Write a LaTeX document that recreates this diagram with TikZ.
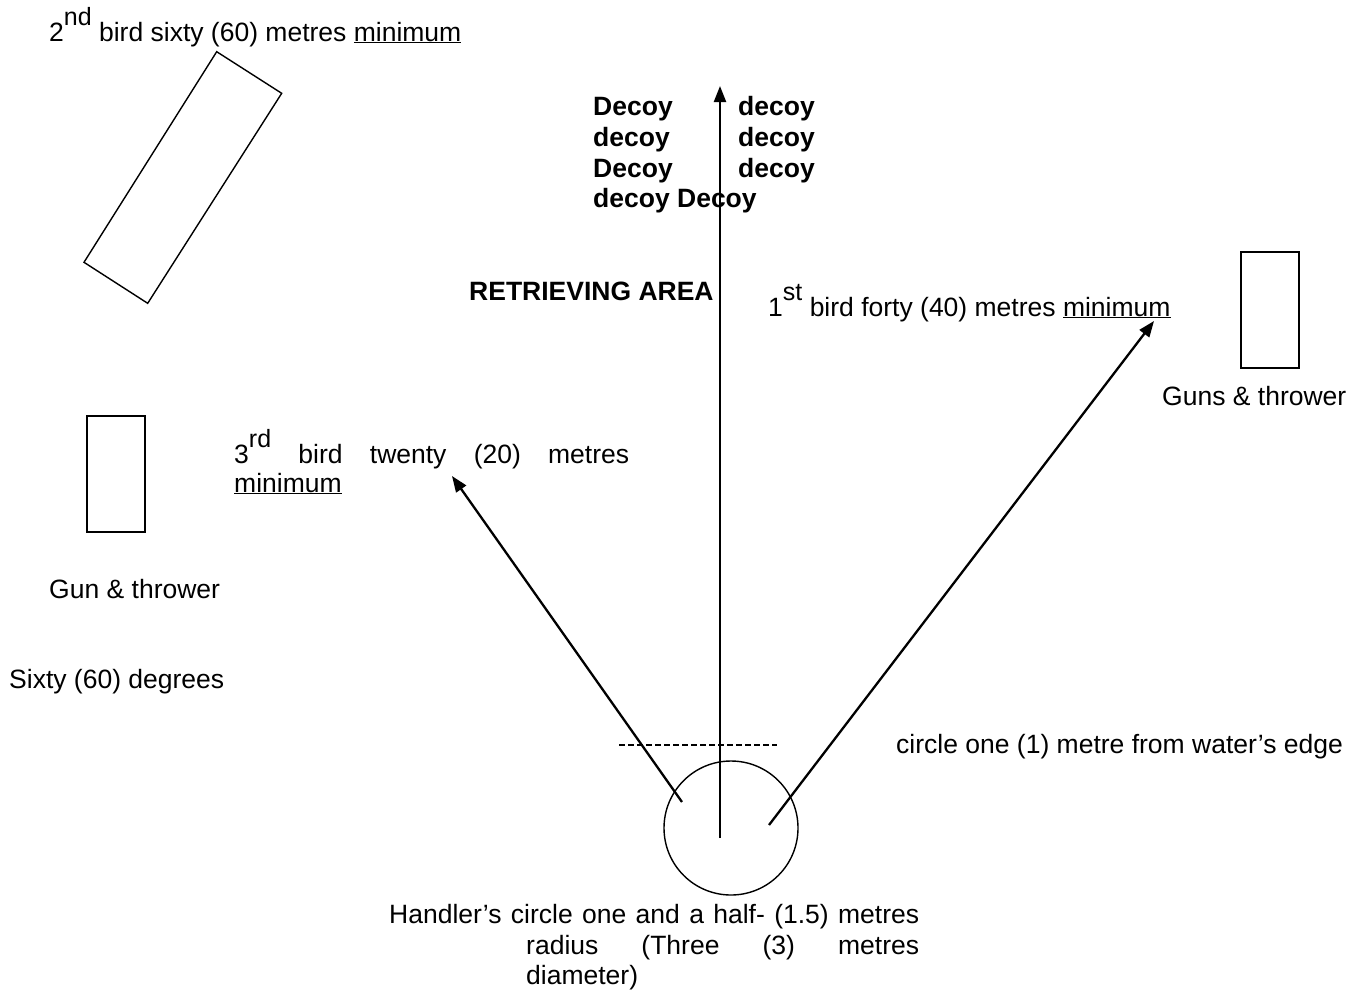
\documentclass[tikz,border=0pt]{standalone}
\usepackage{fontspec}
\setmainfont{Liberation Sans}
\usetikzlibrary{arrows.meta}
\newcommand\mysupx[1]{\raisebox{16pt}{\fontsize{25}{25}\selectfont #1}}
\begin{document}
\begin{tikzpicture}[x=1pt,y=-1pt,
  lbl/.style={inner sep=0pt, anchor=base west, font=\fontsize{26.5}{31}\selectfont},
  blbl/.style={inner sep=0pt, anchor=base west, font=\fontsize{26.5}{31}\selectfont\bfseries},
  thinline/.style={line width=1.4pt},
  arr/.style={line width=2.3pt, -{Triangle[length=16pt,width=12pt]}}
]
\useasboundingbox (0,0) rectangle (1364,991);

% top-left label and tilted box
\node[lbl] (second) at (49,41) {2\mysupx{nd} bird sixty (60) metres \underline{minimum}};
\draw[thinline] (216.7,51.7) coordinate (b1) -- (281.7,93.3) coordinate (b2)
  -- (147.7,303.3) coordinate (b3) -- (84,262.3) coordinate (b4) -- cycle;

% decoys
\node[blbl] (d1) at (593,115) {Decoy};
\node[blbl] (d2) at (593,146) {decoy};
\node[blbl] (d3) at (593,177) {Decoy};
\node[blbl] (d4) at (593,207) {decoy Decoy};
\node[blbl] (d5) at (738,115) {decoy};
\node[blbl] (d6) at (738,146) {decoy};
\node[blbl] (d7) at (738,177) {decoy};

\node[blbl] (ra) at (469,300) {RETRIEVING AREA};
\node[lbl] (first) at (768,316) {1\mysupx{st} bird forty (40) metres \underline{minimum}};

% right box
\node[draw, thinline, minimum width=58pt, minimum height=116pt, inner sep=0pt] (rbox) at (1270,310) {};
\node[lbl] (rtxt) at (1162,405) {Guns \& thrower};

% left box
\node[draw, thinline, minimum width=58pt, minimum height=116pt, inner sep=0pt] (lbox) at (116,474) {};
\node[lbl] (ltxt) at (49,598) {Gun \& thrower};

% third bird
\node[lbl] (third) at (234,463) {\makebox[395pt][s]{3\mysupx{rd} bird twenty (20) metres}};
\node[lbl] (thirdb) at (234,492) {\underline{minimum}};

\node[lbl] (sixty) at (9,688) {Sixty (60) degrees};

% water edge
\coordinate (w1) at (619,745);
\coordinate (w2) at (777,745);
\draw[line width=1.3pt, dash pattern=on 6pt off 3pt] (w1) -- (w2);
\node[lbl] (edge) at (896,753) {circle one (1) metre from water's edge};

% handler circle
\node[draw, thinline, circle, minimum size=134pt, inner sep=0pt] (hc) at (731,828) {};

% arrows
\coordinate (t0) at (720,838);
\coordinate (h0) at (720,86);
\coordinate (t1) at (682,802);
\coordinate (h1) at (452,476);
\coordinate (t2) at (769,825);
\coordinate (h2) at (1154,321);
\draw[arr] (t0) -- (h0);
\draw[arr] (t1) -- (h1);
\draw[arr] (t2) -- (h2);

% bottom label
\node[lbl] (hl1) at (389,923) {\makebox[530pt][s]{Handler's circle one and a half- (1.5) metres}};
\node[lbl] (hl2) at (526,954) {\makebox[393pt][s]{radius (Three (3) metres}};
\node[lbl] (hl3) at (526,984) {diameter)};
\end{tikzpicture}
\end{document}
